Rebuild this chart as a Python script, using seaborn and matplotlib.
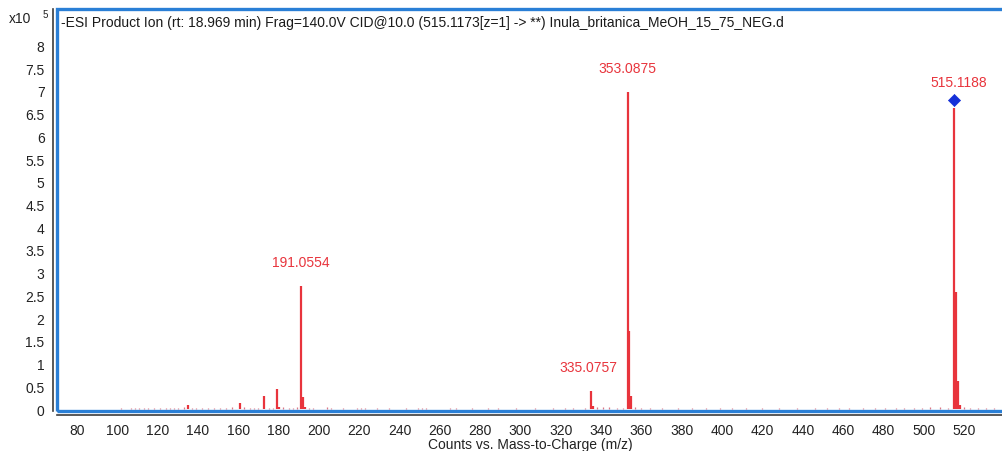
import matplotlib
matplotlib.use("Agg")
import matplotlib.pyplot as plt
from matplotlib.patches import Rectangle
import seaborn as sns
import pandas as pd

# Main fragment peaks (m/z, intensity in units of 1e5 counts)
peak_mz = [135.0, 161.0, 173.0, 179.0, 180.0, 191.0554, 192.0, 193.0,
           335.0757, 336.0, 353.0875, 354.0, 355.0,
           515.1188, 516.0, 517.0, 518.0]
peak_int = [0.10, 0.13, 0.28, 0.44, 0.05, 2.71, 0.27, 0.05,
            0.40, 0.07, 6.98, 1.72, 0.30,
            6.62, 2.57, 0.62, 0.10]

# Low-level baseline signals
noise_mz = [102, 107, 109, 111, 113, 115, 118, 121, 124, 126, 128, 130, 133,
            137, 139, 142, 145, 148, 151, 154, 157, 163, 166, 168, 170, 175,
            177, 182, 185, 187, 189, 195, 197, 204, 206, 212, 219, 221, 223,
            229, 235, 243, 249, 251, 253, 265, 268, 276, 284, 289, 298, 307,
            316, 322, 326, 332, 338, 341, 344, 348, 351, 357, 360, 364, 370,
            378, 385, 392, 399, 405, 412, 420, 428, 437, 446, 452, 458, 463,
            470, 476, 481, 486, 490, 495, 499, 503, 508, 512, 520, 523, 527,
            531, 535]
noise_int = [0.03, 0.03, 0.02, 0.03, 0.02, 0.02, 0.02, 0.02, 0.03, 0.02, 0.03,
             0.03, 0.04, 0.03, 0.02, 0.02, 0.03, 0.02, 0.02, 0.03, 0.04, 0.04,
             0.02, 0.03, 0.03, 0.03, 0.02, 0.04, 0.03, 0.03, 0.04, 0.03, 0.02,
             0.04, 0.03, 0.02, 0.03, 0.03, 0.02, 0.02, 0.02, 0.02, 0.03, 0.03,
             0.02, 0.03, 0.02, 0.02, 0.02, 0.02, 0.02, 0.02, 0.03, 0.02, 0.03,
             0.03, 0.05, 0.04, 0.04, 0.03, 0.03, 0.04, 0.03, 0.02, 0.02, 0.02,
             0.02, 0.02, 0.02, 0.02, 0.02, 0.02, 0.03, 0.02, 0.03, 0.03, 0.02,
             0.02, 0.03, 0.03, 0.03, 0.03, 0.03, 0.03, 0.03, 0.04, 0.04, 0.03,
             0.04, 0.03, 0.02, 0.03, 0.02]

label_mz = [191.0554, 335.0757, 353.0875, 515.1188]
label_int = [2.71, 0.40, 6.98, 6.62]
label_text = ["191.0554", "335.0757", "353.0875", "515.1188"]
label_dx = [0, -2, 0, 3]          # horizontal nudge in points
label_dy = [12, 12, 12, 14]        # vertical offset in points

precursor_mz = [515.1188]
precursor_int = [6.62]

x_ticks = list(range(80, 521, 20))
y_ticks = [0, 0.5, 1, 1.5, 2, 2.5, 3, 3.5, 4, 4.5, 5, 5.5, 6, 6.5, 7, 7.5, 8]
y_ticklabels = ["0", "0.5", "1", "1.5", "2", "2.5", "3", "3.5", "4", "4.5",
                "5", "5.5", "6", "6.5", "7", "7.5", "8"]

title = ("-ESI Product Ion (rt: 18.969 min) Frag=140.0V CID@10.0 "
         "(515.1173[z=1] -> **) Inula_britanica_MeOH_15_75_NEG.d")

sns.set_theme(style="white")
plt.rcParams["font.family"] = ["Liberation Sans", "DejaVu Sans"]

RED = "#e8343c"
NOISE = "#d04a5e"
BLUE = "#2a7fd6"
AXIS = "#3c3c3c"

fig = plt.figure(figsize=(10.02, 4.52), dpi=100)
ax = fig.add_axes([0.0569, 0.0885, 0.9451, 0.8895])

spec = pd.DataFrame({"mz": noise_mz + peak_mz, "intensity": noise_int + peak_int})
noise_df = spec.iloc[:len(noise_mz)]
peak_df = spec.iloc[len(noise_mz):]

ax.vlines(noise_df["mz"], 0, noise_df["intensity"], color=NOISE, lw=0.9, alpha=0.75)
ax.vlines(peak_df["mz"], 0, peak_df["intensity"], color=RED, lw=1.6)

sns.scatterplot(x=precursor_mz, y=[v + 0.18 for v in precursor_int], ax=ax,
                marker="D", s=38, color="#1530d8", edgecolor="#1530d8", zorder=5)

for mz, inten, txt, dx, dy in zip(label_mz, label_int, label_text, label_dx, label_dy):
    ax.annotate(txt, (mz, inten), xytext=(dx, dy), textcoords="offset points",
                ha="center", va="bottom", color=RED, fontsize=10)

ax.set_xlim(70.1, 539.8)
ax.set_ylim(-0.04, 8.8)
ax.set_xticks(x_ticks)
ax.set_xticklabels([str(t) for t in x_ticks])
ax.set_yticks(y_ticks)
ax.set_yticklabels(y_ticklabels)
ax.tick_params(axis="both", labelsize=10, colors="#222222", length=4, width=1,
               direction="out", pad=2)
ax.tick_params(axis="x", color=AXIS)
ax.tick_params(axis="y", color=AXIS)

for side in ["top", "right"]:
    ax.spines[side].set_visible(False)
for side in ["left", "bottom"]:
    ax.spines[side].set_color(AXIS)
    ax.spines[side].set_linewidth(1.2)
    ax.spines[side].set_position(("outward", 3))

ax.add_patch(Rectangle((0, 0), 1.0, 1.0, transform=ax.transAxes, fill=False,
                       edgecolor=BLUE, lw=2.4, clip_on=False, zorder=6))

ax.text(0.004, 0.985, title, transform=ax.transAxes, ha="left", va="top",
        fontsize=10, color="#1a1a1a")
fig.text(0.009, 0.958, "x10", fontsize=10, color="#222222", ha="left", va="center")
fig.text(0.042, 0.966, "5", fontsize=7, color="#222222", ha="left", va="center")

ax.set_xlabel("Counts vs. Mass-to-Charge (m/z)", fontsize=10, color="#222222",
              labelpad=0)

fig.savefig("out.png", dpi=100)
